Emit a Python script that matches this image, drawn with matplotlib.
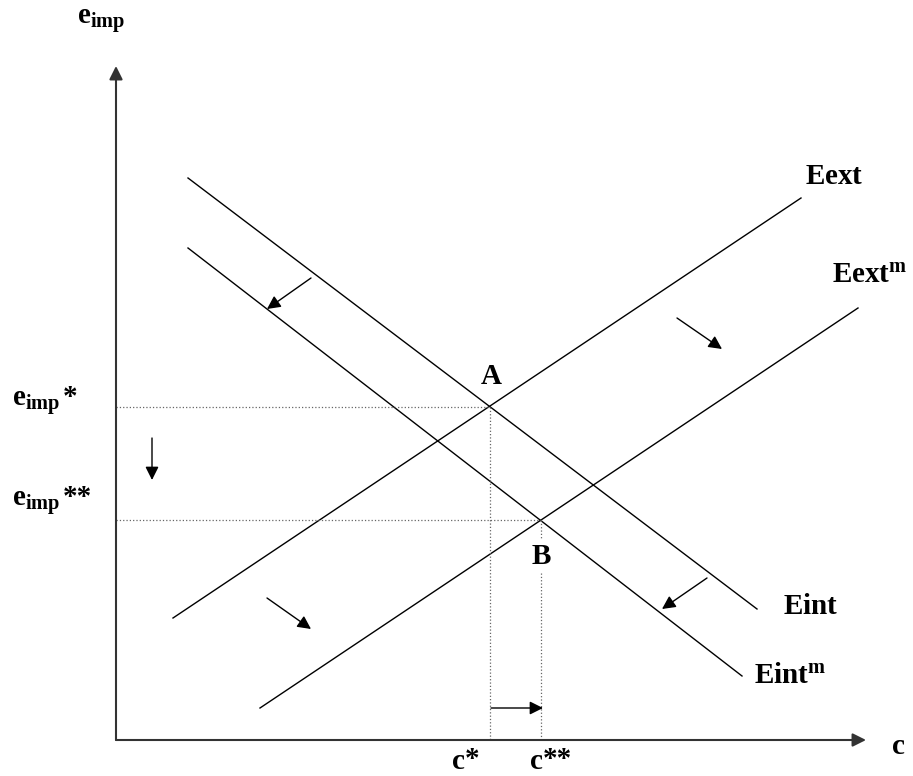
import matplotlib.pyplot as plt

plt.rcParams['mathtext.fontset'] = 'custom'
plt.rcParams['mathtext.rm'] = 'Liberation Serif:bold'
plt.rcParams['mathtext.it'] = 'Liberation Serif:bold'
plt.rcParams['mathtext.bf'] = 'Liberation Serif:bold'
plt.rcParams['font.family'] = 'Liberation Serif'
plt.rcParams['font.weight'] = 'bold'

# schematic curves, endpoints in picture units (x to the right, y downward)
eint_x = [188, 757]
eint_y = [178, 609]
eint_m_x = [188, 742]
eint_m_y = [248, 676]
eext_x = [173, 801]
eext_y = [618, 198]
eext_m_x = [260, 858]
eext_m_y = [708, 308]

# equilibria
point_a = (490, 407)
point_b = (541, 520)

# origin and axis ends
origin = (116, 740)
x_end = 866
y_end = 66

# shift arrows: (tail, head)
shift_arrows = [
    ((311, 278), (267, 309)),
    ((677, 318), (722, 349)),
    ((267, 598), (311, 629)),
    ((707, 578), (662, 609)),
    ((152, 438), (152, 480)),
    ((491, 708), (543, 708)),
]

fig = plt.figure(figsize=(9.13, 7.76), dpi=100)
ax = fig.add_axes([0, 0, 1, 1])
ax.set_xlim(0, 913)
ax.set_ylim(776, 0)
ax.axis('off')

# axes with arrows
ax.annotate('', xy=(x_end, origin[1]), xytext=(origin[0], origin[1]),
            arrowprops=dict(arrowstyle='-|>', color='#333333', lw=1.5,
                            mutation_scale=20, shrinkA=0, shrinkB=0))
ax.annotate('', xy=(origin[0], y_end), xytext=(origin[0], origin[1]),
            arrowprops=dict(arrowstyle='-|>', color='#333333', lw=1.5,
                            mutation_scale=20, shrinkA=0, shrinkB=0))

# curves
for xs, ys in [(eint_x, eint_y), (eint_m_x, eint_m_y),
               (eext_x, eext_y), (eext_m_x, eext_m_y)]:
    ax.plot(xs, ys, color='black', lw=1.0)

# dotted guides
for p in [point_a, point_b]:
    ax.plot([origin[0], p[0]], [p[1], p[1]], color='#666666', lw=0.9, ls=':')
    ax.plot([p[0], p[0]], [p[1], origin[1]], color='#666666', lw=0.9, ls=':')

# shift arrows
for tail, head in shift_arrows:
    ax.annotate('', xy=head, xytext=tail,
                arrowprops=dict(arrowstyle='-|>', color='black', lw=1.0,
                                mutation_scale=20, shrinkA=0, shrinkB=0))

fs = 21
ax.text(77, 24, r'$\mathrm{e}_{\mathrm{imp}}$', fontsize=fs, va='baseline')
ax.text(12, 406, r'$\mathrm{e}_{\mathrm{imp}}$', fontsize=fs, va='baseline')
ax.text(63, 405, '*', fontsize=fs, va='baseline')
ax.text(12, 506, r'$\mathrm{e}_{\mathrm{imp}}$', fontsize=fs, va='baseline')
ax.text(63, 505, '**', fontsize=fs, va='baseline')
ax.text(805, 184, r'$\mathrm{Eext}$', fontsize=fs, va='baseline')
ax.text(832, 283, r'$\mathrm{Eext}^{\mathrm{m}}$', fontsize=fs, va='baseline')
ax.text(783, 614, r'$\mathrm{Eint}$', fontsize=fs, va='baseline')
ax.text(754, 683, r'$\mathrm{Eint}^{\mathrm{m}}$', fontsize=fs, va='baseline')
ax.text(491, 384, 'A', fontsize=fs, ha='center', va='baseline')
ax.text(541, 564, 'B', fontsize=fs, ha='center', va='baseline',
        bbox=dict(facecolor='white', edgecolor='none', pad=2))
ax.text(892, 754, 'c', fontsize=fs, va='baseline')
ax.text(452, 769, 'c', fontsize=fs, va='baseline')
ax.text(465, 767, '*', fontsize=fs, va='baseline')
ax.text(530, 769, 'c', fontsize=fs, va='baseline')
ax.text(543, 767, '**', fontsize=fs, va='baseline')

fig.savefig('out.png', dpi=100)
